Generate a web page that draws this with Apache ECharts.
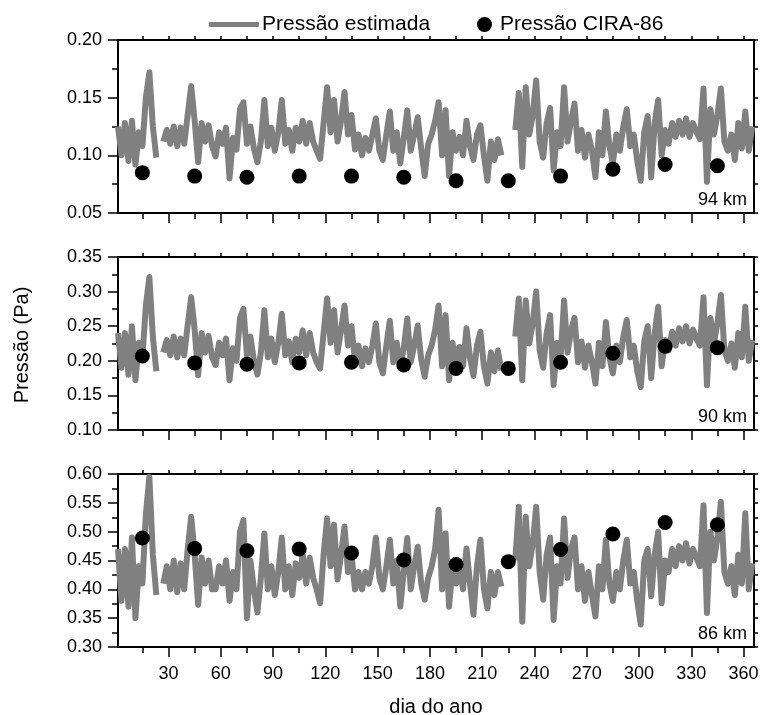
<!DOCTYPE html>
<html>
<head>
<meta charset="utf-8">
<script src="https://cdn.jsdelivr.net/npm/echarts@6/dist/echarts.min.js"></script>
<style>
html,body{margin:0;padding:0;background:#fff;overflow:hidden;}
#chart{width:761px;height:715px;}
</style>
</head>
<body>
<div id="chart"></div>
<script>
// ---- data ----
const days = [1,3,5,7,9,11,13,15,17,19,21,23,25,27,29,31,33,35,37,39,41,43,45,47,49,51,53,55,57,59,61,63,65,67,69,71,73,75,77,79,81,83,85,87,89,91,93,95,97,99,101,103,105,107,109,111,113,115,117,119,121,123,125,127,129,131,133,135,137,139,141,143,145,147,149,151,153,155,157,159,161,163,165,167,169,171,173,175,177,179,181,183,185,187,189,191,193,195,197,199,201,203,205,207,209,211,213,215,217,219,221,223,225,227,229,231,233,235,237,239,241,243,245,247,249,251,253,255,257,259,261,263,265,267,269,271,273,275,277,279,281,283,285,287,289,291,293,295,297,299,301,303,305,307,309,311,313,315,317,319,321,323,325,327,329,331,333,335,337,339,341,343,345,347,349,351,353,355,357,359,361,363,365];

const p94 = [0.125,0.100,0.128,0.095,0.130,0.092,0.120,0.108,0.150,0.172,0.125,0.098,null,0.112,0.122,0.110,0.125,0.108,0.124,0.110,0.135,0.160,0.130,0.094,0.128,0.112,0.126,0.108,0.099,0.120,0.110,0.124,0.080,0.115,0.105,0.140,0.146,0.110,0.125,0.106,0.094,0.112,0.148,0.108,0.124,0.104,0.120,0.148,0.110,0.122,0.104,0.124,0.112,0.130,0.110,0.128,0.112,0.104,0.097,0.128,0.159,0.120,0.148,0.112,0.130,0.155,0.118,0.135,0.105,0.118,0.100,0.115,0.104,0.118,0.132,0.104,0.096,0.118,0.138,0.104,0.120,0.093,0.115,0.139,0.104,0.118,0.133,0.106,0.082,0.110,0.118,0.130,0.146,0.100,0.139,0.082,0.120,0.104,0.116,0.100,0.130,0.108,0.096,0.118,0.126,0.100,0.078,0.112,0.096,0.114,0.100,null,null,null,0.122,0.154,0.090,0.159,0.118,0.135,0.165,0.112,0.098,0.128,0.141,0.087,0.120,0.108,0.159,0.112,0.130,0.145,0.104,0.122,0.098,0.118,0.104,0.081,0.120,0.100,0.138,0.108,0.093,0.118,0.104,0.125,0.140,0.108,0.118,0.095,0.078,0.120,0.134,0.081,0.128,0.148,0.100,0.122,0.110,0.128,0.116,0.130,0.118,0.132,0.116,0.128,0.120,0.114,0.158,0.077,0.140,0.118,0.135,0.158,0.112,0.104,0.118,0.096,0.128,0.106,0.138,0.104,0.125];

const p90 = [0.240,0.190,0.240,0.180,0.250,0.172,0.226,0.205,0.280,0.321,0.235,0.185,null,0.212,0.230,0.208,0.235,0.205,0.232,0.208,0.252,0.292,0.245,0.179,0.240,0.212,0.236,0.205,0.194,0.226,0.208,0.232,0.172,0.218,0.200,0.262,0.275,0.208,0.235,0.200,0.180,0.212,0.273,0.205,0.232,0.198,0.226,0.268,0.208,0.228,0.198,0.232,0.212,0.244,0.208,0.240,0.212,0.198,0.189,0.240,0.290,0.226,0.273,0.212,0.244,0.280,0.222,0.250,0.200,0.222,0.192,0.218,0.198,0.222,0.254,0.198,0.182,0.222,0.258,0.198,0.226,0.191,0.218,0.261,0.198,0.222,0.251,0.202,0.177,0.208,0.222,0.245,0.280,0.192,0.266,0.172,0.226,0.198,0.220,0.192,0.247,0.205,0.178,0.222,0.242,0.192,0.167,0.212,0.185,0.215,0.186,null,null,null,0.235,0.290,0.172,0.287,0.225,0.255,0.300,0.215,0.190,0.240,0.266,0.165,0.226,0.205,0.287,0.212,0.244,0.262,0.198,0.228,0.190,0.222,0.198,0.167,0.226,0.192,0.256,0.205,0.182,0.222,0.198,0.235,0.259,0.205,0.222,0.185,0.162,0.228,0.250,0.175,0.240,0.278,0.192,0.230,0.215,0.242,0.222,0.247,0.228,0.250,0.225,0.245,0.232,0.222,0.292,0.165,0.262,0.225,0.255,0.295,0.215,0.200,0.225,0.190,0.240,0.205,0.278,0.200,0.230];

const p86 = [0.470,0.380,0.470,0.370,0.490,0.350,0.440,0.410,0.530,0.595,0.460,0.390,null,0.410,0.440,0.400,0.450,0.395,0.445,0.400,0.470,0.526,0.460,0.373,0.455,0.410,0.450,0.400,0.400,0.440,0.410,0.450,0.380,0.430,0.400,0.500,0.520,0.350,0.450,0.400,0.360,0.420,0.497,0.400,0.440,0.390,0.430,0.490,0.400,0.440,0.390,0.445,0.420,0.460,0.410,0.455,0.420,0.400,0.376,0.460,0.523,0.440,0.512,0.417,0.460,0.509,0.430,0.460,0.400,0.430,0.400,0.430,0.410,0.440,0.490,0.420,0.400,0.440,0.486,0.410,0.450,0.370,0.430,0.489,0.400,0.440,0.474,0.410,0.382,0.420,0.440,0.470,0.538,0.400,0.497,0.370,0.440,0.410,0.440,0.400,0.471,0.410,0.356,0.440,0.486,0.400,0.367,0.430,0.390,0.430,0.405,null,null,null,0.450,0.543,0.344,0.526,0.440,0.480,0.543,0.430,0.382,0.460,0.490,0.347,0.440,0.410,0.523,0.420,0.470,0.490,0.400,0.440,0.380,0.430,0.390,0.353,0.440,0.400,0.486,0.410,0.380,0.430,0.400,0.450,0.486,0.410,0.430,0.380,0.339,0.450,0.470,0.388,0.460,0.500,0.376,0.450,0.430,0.470,0.440,0.475,0.450,0.480,0.445,0.470,0.455,0.440,0.546,0.359,0.500,0.450,0.490,0.552,0.430,0.410,0.440,0.390,0.460,0.410,0.532,0.400,0.445];

const ciraDays = [15,45,75,105,135,165,195,225,255,285,315,345];
const c94 = [0.085,0.082,0.081,0.082,0.082,0.081,0.078,0.078,0.082,0.088,0.092,0.091];
const c90 = [0.207,0.197,0.195,0.197,0.198,0.194,0.189,0.189,0.198,0.211,0.221,0.219];
const c86 = [0.489,0.471,0.467,0.470,0.463,0.451,0.443,0.448,0.469,0.496,0.516,0.512];

const xAllTicks = [15,30,45,60,75,90,105,120,135,150,165,180,195,210,225,240,255,270,285,300,315,330,345,360];
const xMajor = [30,60,90,120,150,180,210,240,270,300,330,360];
const xMinor = [15,45,75,105,135,165,195,225,255,285,315,345];

const panels = [
  {name:'94 km', min:0.05, max:0.20,
   all:[0.05,0.075,0.10,0.125,0.15,0.175,0.20],
   major:[0.05,0.10,0.15,0.20],
   minor:[0.075,0.125,0.175], line:p94, dots:c94},
  {name:'90 km', min:0.10, max:0.35,
   all:[0.10,0.125,0.15,0.175,0.20,0.225,0.25,0.275,0.30,0.325,0.35],
   major:[0.10,0.15,0.20,0.25,0.30,0.35],
   minor:[0.125,0.175,0.225,0.275,0.325], line:p90, dots:c90},
  {name:'86 km', min:0.30, max:0.60,
   all:[0.30,0.325,0.35,0.375,0.40,0.425,0.45,0.475,0.50,0.525,0.55,0.575,0.60],
   major:[0.30,0.35,0.40,0.45,0.50,0.55,0.60],
   minor:[0.325,0.375,0.425,0.475,0.525,0.575], line:p86, dots:c86}
];
const seriesNames = ['Pressão estimada','Pressão CIRA-86'];

// ---- chart ----
const FONT = 'Liberation Sans, Arial, Helvetica, sans-serif';
const tops = [40, 257, 474];
const H = 173;
const grid = [], xAxis = [], yAxis = [], series = [], graphic = [];
const lineOn = {show:true, lineStyle:{color:'#000', width:2}};
const lineOff = {show:false};
const tick = (vals, len) => ({show:true, inside:false, length:len, lineStyle:{color:'#000', width:1.5}, customValues:vals});

panels.forEach((p, i) => {
  grid.push({left:118, top:tops[i], width:636, height:H, containLabel:false, outerBoundsMode:'none'});
  const xb = {type:'value', gridIndex:i, min:1, max:366, splitLine:{show:false}};
  const yb = {type:'value', gridIndex:i, min:p.min, max:p.max, splitLine:{show:false}};
  // bottom x: major ticks + labels
  xAxis.push(Object.assign({}, xb, {position:'bottom', axisLine:lineOn, axisTick:tick(xMajor, 10),
    axisLabel:{show:i===2, customValues:xMajor, color:'#000', fontSize:18, fontFamily:FONT, margin:18},
    name: i===2 ? 'dia do ano' : '', nameLocation:'middle', nameGap:50,
    nameTextStyle:{color:'#000', fontSize:20, fontFamily:FONT}}));
  // bottom x: minor ticks
  xAxis.push(Object.assign({}, xb, {position:'bottom', offset:0, axisLine:lineOff, axisTick:tick(xMinor, 6), axisLabel:{show:false}}));
  // top x
  xAxis.push(Object.assign({}, xb, {position:'top', axisLine:lineOn, axisTick:tick(xAllTicks, 4), axisLabel:{show:false}}));
  // left y: major ticks + labels
  yAxis.push(Object.assign({}, yb, {position:'left', axisLine:lineOn, axisTick:tick(p.major, 10),
    axisLabel:{show:true, customValues:p.major, color:'#000', fontSize:18, fontFamily:FONT, margin:16,
      formatter:v => Number(v).toFixed(2)}}));
  // left y: minor ticks
  yAxis.push(Object.assign({}, yb, {position:'left', offset:0, axisLine:lineOff, axisTick:tick(p.minor, 6), axisLabel:{show:false}}));
  // right y
  yAxis.push(Object.assign({}, yb, {position:'right', axisLine:lineOn, axisTick:tick(p.all, 4), axisLabel:{show:false}}));

  series.push({name:seriesNames[0], type:'line', xAxisIndex:3*i, yAxisIndex:3*i,
    data: days.map((d,k) => [d, p.line[k] === null ? '-' : p.line[k]]),
    showSymbol:false, symbol:'none', connectNulls:false,
    lineStyle:{color:'#808080', width:6, join:'round'}, itemStyle:{color:'#808080'}, z:2, animation:false});
  series.push({name:seriesNames[1], type:'scatter', xAxisIndex:3*i, yAxisIndex:3*i,
    data: ciraDays.map((d,k) => [d, p.dots[k]]),
    symbol:'circle', symbolSize:15, itemStyle:{color:'#000', opacity:1}, z:3, animation:false});

  graphic.push({type:'text', right:14, top:tops[i] + H - 22,
    style:{text:p.name, fill:'#000', font:'18px ' + FONT}});
});

graphic.push({type:'text', x:22, y:345, rotation:Math.PI/2,
  style:{text:'Pressão (Pa)', fill:'#000', font:'20px ' + FONT, textAlign:'center', textVerticalAlign:'middle'}});

const chart = echarts.init(document.getElementById('chart'), null, {renderer:'canvas'});
chart.setOption({
  backgroundColor:'#fff',
  animation:false,
  grid, xAxis, yAxis, series, graphic,
  legend:[
    {data:[{name:seriesNames[0], icon:'roundRect'}], left:204, top:9, itemWidth:50, itemHeight:5,
     itemGap:0, textStyle:{color:'#000', fontSize:21, fontFamily:FONT, padding:[0,0,0,-2]}, selectedMode:false},
    {data:[{name:seriesNames[1], icon:'circle'}], left:472, top:9, itemWidth:15, itemHeight:15,
     itemStyle:{opacity:1},
     textStyle:{color:'#000', fontSize:21, fontFamily:FONT, padding:[0,0,0,3]}, selectedMode:false}
  ]
});
</script>
</body>
</html>
